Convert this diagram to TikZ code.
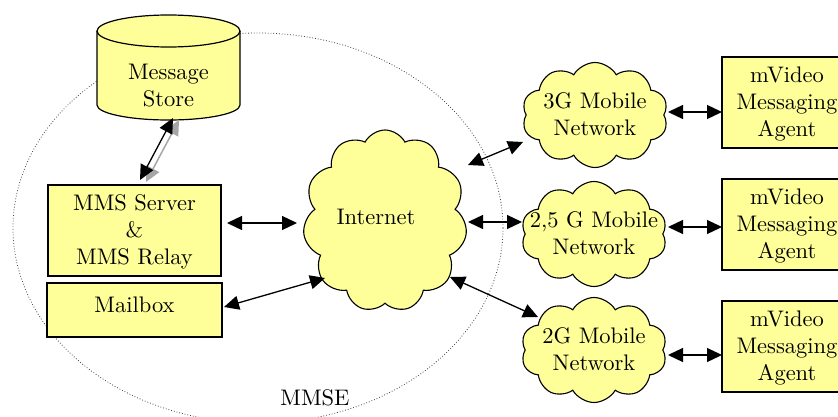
\documentclass[tikz,border=0pt]{standalone}
\usetikzlibrary{shapes.symbols,arrows.meta,calc}
\definecolor{paleyellow}{RGB}{255,255,153}
% text block set in the 10pt design of the font, enlarged and set 2pt lower
\newcommand{\boxtext}[1]{\raisebox{-2pt}[\height][\depth]{\scalebox{2.25}{\fontsize{10}{12}\selectfont\begin{tabular}{@{}c@{}}#1\end{tabular}}}}
\begin{document}
\begin{tikzpicture}[x=1pt,y=-1pt,
  box/.style={draw, fill=paleyellow, line width=1.2pt, inner sep=0pt},
  netcloud/.style={cloud, cloud puffs=10, cloud puff arc=120, cloud ignores aspect,
    draw, fill=paleyellow, line width=1.1pt, inner sep=0pt,
    minimum width=146pt, minimum height=105pt},
  tip/.tip={Triangle[length=15pt,width=14pt]},
  link/.style={line width=1.3pt, tip-tip},
  linkshadow/.style={line width=1.5pt, gray!70, tip-tip}
]
\useasboundingbox (0,0) rectangle (838,417);
\clip (0,0) rectangle (838,417);

% MMSE domain boundary
\draw[dotted, line width=0.8pt, black!75] (258,228) ellipse [x radius=245, y radius=195];
\node[inner sep=0pt] (mmse) at (315,398) {\boxtext{MMSE}};

% Message store cylinder
\fill[paleyellow] (97,31) -- (97,105)
  .. controls (97,113.3) and (129,120) .. (168.5,120)
  .. controls (208,120) and (240,113.3) .. (240,105) -- (240,31) -- cycle;
\draw[line width=1.2pt] (97,31) -- (97,105)
  .. controls (97,113.3) and (129,120) .. (168.5,120)
  .. controls (208,120) and (240,113.3) .. (240,105) -- (240,31);
\draw[line width=1.2pt, fill=paleyellow] (168.5,31) ellipse [x radius=71.5, y radius=16];
\node[inner sep=0pt] (store) at (168.5,86) {\boxtext{Message\\Store}};

% Server side boxes
\node[box, minimum width=173pt, minimum height=91pt] (srv) at (134.5,230.5)
  {\boxtext{MMS Server\\\&\\MMS Relay}};
\node[box, minimum width=175pt, minimum height=54pt, text depth=17.5pt] (mbox) at (134.5,310) {\boxtext{Mailbox}};

% Networks
\node[netcloud, cloud puffs=11, cloud puff arc=125, minimum width=164pt, minimum height=182pt,
  label={[inner sep=0pt,xshift=-9pt,yshift=4pt]center:\boxtext{Internet}}] (inet) at (385,221) {};
\node[netcloud, label={[inner sep=0pt]center:\boxtext{3G Mobile\\Network}}] (g3) at (595,115) {};
\node[netcloud, label={[inner sep=0pt]center:\boxtext{2,5 G Mobile\\Network}}] (g25) at (594,234) {};
\node[netcloud, label={[inner sep=0pt]center:\boxtext{2G Mobile\\Network}}] (g2) at (594,350) {};

% Terminal agents
\node[box, minimum width=130pt, minimum height=91pt] (a1) at (787,102.5) {\boxtext{mVideo\\Messaging\\Agent}};
\node[box, minimum width=130pt, minimum height=91pt] (a2) at (787,224.5) {\boxtext{mVideo\\Messaging\\Agent}};
\node[box, minimum width=130pt, minimum height=91pt] (a3) at (787,346.5) {\boxtext{mVideo\\Messaging\\Agent}};

% Connections
\draw[linkshadow] ($(store.center)+(10.5,34)$) -- ($(srv.center)+(11.5,-48.5)$);
\draw[link] ($(store.center)+(4.5,32)$) -- ($(srv.center)+(5.5,-50.5)$);
\draw[link] ($(srv.center)+(92.5,-7.5)$) -- ($(inet.center)+(-88,2)$);
\draw[link] ($(mbox.center)+(89.5,-3)$) -- ($(inet.center)+(-60,57)$);
\draw[link] ($(inet.center)+(83,-56)$) -- ($(g3.center)+(-72,27)$);
\draw[link] ($(inet.center)+(83,1)$) -- ($(g25.center)+(-72,-12)$);
\draw[link] ($(inet.center)+(65,56)$) -- ($(g2.center)+(-56,-33)$);
\draw[link] ($(g3.center)+(73,-3)$) -- ($(a1.center)+(-65,9.5)$);
\draw[link] ($(g25.center)+(74,-7)$) -- ($(a2.center)+(-65,2.5)$);
\draw[link] ($(g2.center)+(74,5)$) -- ($(a3.center)+(-65,8.5)$);
\end{tikzpicture}
\end{document}
